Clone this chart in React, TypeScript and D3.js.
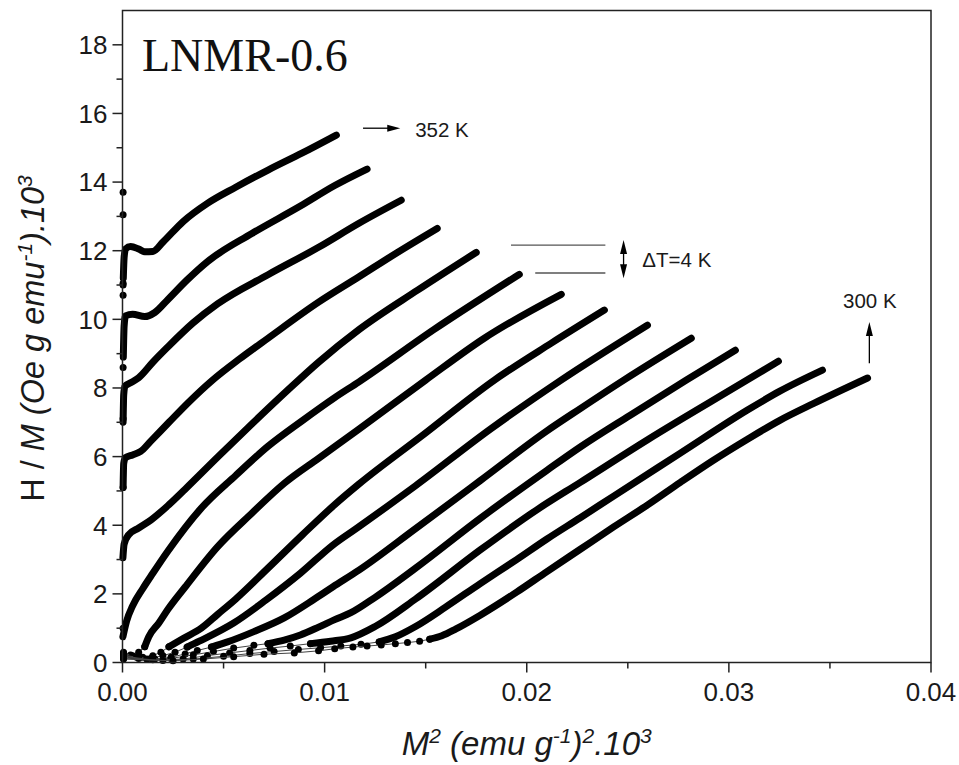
import React from 'react';
import * as d3 from 'd3';

type P = [number, number];

// ---- axes ----
const xDomain: P = [0, 0.04];
const yDomain: P = [0, 19];
const xMajorTicks = [0, 0.01, 0.02, 0.03, 0.04];
const xTickLabels = ['0.00', '0.01', '0.02', '0.03', '0.04'];
const xMinorTicks = [0.005, 0.015, 0.025, 0.035];
const yMajorTicks = [0, 2, 4, 6, 8, 10, 12, 14, 16, 18];
const yMinorTicks = [1, 3, 5, 7, 9, 11, 13, 15, 17];

// ---- series: temperatures 352 K ... 300 K (step 4 K) ----
const temps = [352, 348, 344, 340, 336, 332, 328, 324, 320, 316, 312, 308, 304, 300];

// high-field (dense) branches
const high352: P[] = [[0.00004, 11.2], [0.00008, 11.8], [0.00015, 12.05], [0.0004, 12.12], [0.0008, 12.05], [0.0011, 11.97], [0.0015, 11.98], [0.002, 12.25], [0.003, 12.85], [0.0042, 13.38], [0.0056, 13.85], [0.0072, 14.35], [0.0089, 14.85], [0.01058, 15.37]];
const high348: P[] = [[0.00004, 8.9], [0.00008, 9.8], [0.00015, 10.1], [0.0005, 10.15], [0.0011, 10.08], [0.0016, 10.2], [0.00225, 10.58], [0.0032, 11.15], [0.0042, 11.68], [0.0064, 12.5], [0.0088, 13.3], [0.0105, 13.9], [0.0121, 14.38]];
const high344: P[] = [[0.00003, 7.0], [0.00006, 7.8], [0.00012, 8.05], [0.0004, 8.15], [0.0008, 8.3], [0.0015, 8.75], [0.00225, 9.2], [0.0035, 9.9], [0.0047, 10.45], [0.0072, 11.3], [0.0097, 12.1], [0.0117, 12.8], [0.01379, 13.47]];
const high340: P[] = [[0.00003, 5.1], [0.00006, 5.8], [0.00015, 5.97], [0.0005, 6.05], [0.0009, 6.15], [0.0014, 6.45], [0.0023, 7.0], [0.0033, 7.6], [0.0044, 8.2], [0.0058, 8.85], [0.0072, 9.45], [0.0097, 10.5], [0.0117, 11.24], [0.0136, 11.95], [0.01557, 12.65]];
const high336: P[] = [[0.00002, 3.05], [0.00008, 3.45], [0.0003, 3.72], [0.0008, 3.92], [0.0014, 4.15], [0.0023, 4.6], [0.0031, 5.05], [0.0047, 5.98], [0.0064, 6.95], [0.0082, 7.95], [0.0097, 8.75], [0.0117, 9.7], [0.0146, 10.85], [0.0175, 11.95]];
const high332: P[] = [[0.00002, 0.75], [0.0002, 1.2], [0.0005, 1.65], [0.001, 2.15], [0.0015, 2.6], [0.00225, 3.25], [0.0039, 4.5], [0.0056, 5.45], [0.0072, 6.3], [0.0089, 7.05], [0.0105, 7.72], [0.0117, 8.18], [0.0154, 9.7], [0.01963, 11.31]];
const high328: P[] = [[0.0011, 0.46], [0.0013, 0.75], [0.0018, 1.15], [0.00225, 1.55], [0.0031, 2.2], [0.0047, 3.37], [0.0064, 4.35], [0.008, 5.22], [0.0097, 5.95], [0.0117, 6.8], [0.015, 8.23], [0.0179, 9.45], [0.02171, 10.73]];
const high324: P[] = [[0.0023, 0.46], [0.003, 0.7], [0.0039, 1.0], [0.0047, 1.4], [0.0056, 1.85], [0.0072, 2.75], [0.0089, 3.72], [0.0105, 4.6], [0.0117, 5.2], [0.0148, 6.6], [0.0184, 8.23], [0.0212, 9.3], [0.02384, 10.27]];
const high320: P[] = [[0.0032, 0.45], [0.0038, 0.62], [0.0055, 1.15], [0.0071, 1.82], [0.0088, 2.6], [0.0104, 3.42], [0.0117, 3.96], [0.0145, 5.15], [0.0182, 6.8], [0.0217, 8.23], [0.02597, 9.83]];
const high316: P[] = [[0.0044, 0.45], [0.0052, 0.6], [0.0065, 0.9], [0.008, 1.3], [0.0095, 1.85], [0.0104, 2.2], [0.0117, 2.69], [0.0145, 3.9], [0.0177, 5.3], [0.021, 6.75], [0.02265, 7.4], [0.0248, 8.23], [0.02814, 9.45]];
const high312: P[] = [[0.0072, 0.55], [0.008, 0.65], [0.0088, 0.8], [0.0097, 1.03], [0.0105, 1.25], [0.0113, 1.45], [0.0125, 1.9], [0.0145, 2.75], [0.0177, 4.2], [0.021, 5.6], [0.02265, 6.28], [0.0251, 7.2], [0.0279, 8.23], [0.03032, 9.1]];
const high308: P[] = [[0.0093, 0.55], [0.0103, 0.62], [0.0113, 0.72], [0.0125, 1.05], [0.0145, 1.85], [0.0177, 3.28], [0.0205, 4.45], [0.02265, 5.25], [0.026, 6.5], [0.0309, 8.23], [0.03245, 8.78]];
const high304: P[] = [[0.0127, 0.6], [0.0135, 0.75], [0.0145, 1.05], [0.016, 1.62], [0.0177, 2.3], [0.0195, 3.0], [0.021, 3.6], [0.02265, 4.22], [0.0243, 4.85], [0.0276, 6.1], [0.0309, 7.35], [0.0325, 7.9], [0.03463, 8.52]];
const high300: P[] = [[0.0152, 0.68], [0.0158, 0.78], [0.0165, 0.98], [0.0177, 1.38], [0.0195, 2.05], [0.021, 2.65], [0.02265, 3.3], [0.0243, 3.95], [0.026, 4.6], [0.0276, 5.25], [0.0292, 5.88], [0.0309, 6.5], [0.0325, 7.05], [0.0342, 7.55], [0.03686, 8.29]];

// low-field (sparse) points drawn as dots
const low352: P[] = [[0.00003, 13.7], [0.00003, 13.05], [0.00003, 11.0]];
const low348: P[] = [[0.00003, 11.05], [0.00003, 10.7], [0.00003, 8.6]];
const low344: P[] = [[0.00003, 7.1]];
const low340: P[] = [[0.00003, 5.1]];
const low336: P[] = [];
const low332: P[] = [[0.00003, 1.0]];
const low328: P[] = [[0.00005, 0.3], [0.0004, 0.22], [0.0008, 0.3], [0.0011, 0.46]];
const low324: P[] = [[0.00005, 0.28], [0.0005, 0.2], [0.001, 0.15], [0.0015, 0.2], [0.0019, 0.3], [0.0023, 0.46]];
const low320: P[] = [[0.00005, 0.22], [0.0007, 0.15], [0.0014, 0.12], [0.002, 0.2], [0.0026, 0.3], [0.0032, 0.45]];
const low316: P[] = [[0.00005, 0.2], [0.0008, 0.12], [0.0016, 0.1], [0.0024, 0.15], [0.0031, 0.25], [0.0037, 0.35], [0.0044, 0.45]];
const low312: P[] = [[0.00005, 0.18], [0.0012, 0.1], [0.0024, 0.12], [0.0035, 0.22], [0.0045, 0.32], [0.0055, 0.42], [0.0065, 0.5], [0.0072, 0.55]];
const low308: P[] = [[0.00005, 0.15], [0.0015, 0.08], [0.003, 0.1], [0.0042, 0.2], [0.0053, 0.28], [0.0063, 0.35], [0.0073, 0.42], [0.0083, 0.48], [0.0093, 0.55]];
const low304: P[] = [[0.00005, 0.12], [0.002, 0.06], [0.0035, 0.1], [0.005, 0.18], [0.0063, 0.26], [0.0075, 0.32], [0.0087, 0.38], [0.0098, 0.43], [0.0108, 0.48], [0.0118, 0.53], [0.0127, 0.6]];
const low300: P[] = [[0.00005, 0.1], [0.0025, 0.05], [0.004, 0.1], [0.0055, 0.17], [0.007, 0.24], [0.0085, 0.28], [0.0097, 0.34], [0.0105, 0.4], [0.0114, 0.45], [0.0121, 0.48], [0.0128, 0.51], [0.0135, 0.55], [0.0141, 0.58], [0.0147, 0.62], [0.0152, 0.68]];

const highBranches = [high352, high348, high344, high340, high336, high332, high328, high324, high320, high316, high312, high308, high304, high300];
const lowBranches = [low352, low348, low344, low340, low336, low332, low328, low324, low320, low316, low312, low308, low304, low300];
// whether the low-field points join the curve with a thin line
const joinLow = [false, false, false, false, false, false, true, true, true, true, true, true, true, true];

// ---- annotations (data units) ----
const arrow352: [P, P] = [[0.0119, 15.57], [0.01374, 15.57]];
const label352: P = [0.01448, 15.31];
const refLine1: [P, P] = [[0.01922, 12.16], [0.02389, 12.16]];
const refLine2: [P, P] = [[0.02042, 11.35], [0.02389, 11.35]];
const dTArrow: [P, P] = [[0.02479, 12.31], [0.02479, 11.2]];
const labelDT: P = [0.02572, 11.52];
const arrow300: [P, P] = [[0.03695, 8.72], [0.03695, 9.92]];
const label300: P = [0.03565, 10.33];

const W = 959;
const H = 765;
const left = 122.5, right = 931, top = 10.5, bottom = 662.5;
const SANS = "'Liberation Sans', Arial, Helvetica, sans-serif";
const SERIF = "'Liberation Serif', 'Times New Roman', serif";

export default function App() {
  const x = d3.scaleLinear().domain(xDomain).range([left, right]);
  const y = d3.scaleLinear().domain(yDomain).range([bottom, top]);
  const line = d3.line<P>().x(d => x(d[0])).y(d => y(d[1])).curve(d3.curveMonotoneX);
  const thin = d3.line<P>().x(d => x(d[0])).y(d => y(d[1]));

  const arrowHead = (tip: P, dir: 'right' | 'up' | 'down', len = 12, half = 4) => {
    const tx = x(tip[0]), ty = y(tip[1]);
    let pts: number[][];
    if (dir === 'right') pts = [[tx, ty], [tx - len, ty - half], [tx - len, ty + half]];
    else if (dir === 'up') pts = [[tx, ty], [tx - half, ty + len], [tx + half, ty + len]];
    else pts = [[tx, ty], [tx - half, ty - len], [tx + half, ty - len]];
    return <polygon points={pts.map(p => p.join(',')).join(' ')} fill="#000" />;
  };

  const supDy = 12;
  const supFs = 21;

  return (
    <svg width={W} height={H} style={{ position: 'absolute', left: 0, top: 0, background: '#fff' }} fontFamily={SANS}>
      <rect x={0} y={0} width={W} height={H} fill="#fff" />
      {/* curves */}
      {temps.map((t, i) => {
        const hi = highBranches[i];
        const lo = lowBranches[i];
        return (
          <g key={t}>
            {joinLow[i] && <path d={thin([...lo, ...hi]) || ''} fill="none" stroke="#444" strokeWidth={1} />}
            <path d={line(hi) || ''} fill="none" stroke="#000" strokeWidth={7} strokeLinecap="round" strokeLinejoin="round" />
            {lo.map((p, j) => (
              <circle key={j} cx={x(p[0])} cy={y(p[1])} r={3.5} fill="#000" />
            ))}
          </g>
        );
      })}

      {/* frame */}
      <rect x={left} y={top} width={right - left} height={bottom - top} fill="none" stroke="#222" strokeWidth={1.5} />

      {/* x ticks */}
      {xMajorTicks.map((v, i) => (
        <g key={'xm' + i}>
          <line x1={x(v)} x2={x(v)} y1={bottom} y2={bottom + 10} stroke="#222" strokeWidth={1.5} />
          <text x={x(v)} y={bottom + 38} textAnchor="middle" fontSize={26} fill="#1a1a1a">{xTickLabels[i]}</text>
        </g>
      ))}
      {xMinorTicks.map((v, i) => (
        <line key={'xn' + i} x1={x(v)} x2={x(v)} y1={bottom} y2={bottom + 6} stroke="#222" strokeWidth={1.5} />
      ))}
      {/* y ticks */}
      {yMajorTicks.map((v, i) => (
        <g key={'ym' + i}>
          <line x1={left - 10} x2={left} y1={y(v)} y2={y(v)} stroke="#222" strokeWidth={1.5} />
          <text x={left - 15} y={y(v) + 9.3} textAnchor="end" fontSize={26} fill="#1a1a1a">{v}</text>
        </g>
      ))}
      {yMinorTicks.map((v, i) => (
        <line key={'yn' + i} x1={left - 6} x2={left} y1={y(v)} y2={y(v)} stroke="#222" strokeWidth={1.5} />
      ))}

      {/* axis titles */}
      <text x={(left + right) / 2} y={755} textAnchor="middle" fontSize={33} fill="#1a1a1a" fontStyle="italic">
        <tspan>M</tspan>
        <tspan dy={-supDy} fontSize={supFs}>2</tspan>
        <tspan dy={supDy}> (emu g</tspan>
        <tspan dy={-supDy} fontSize={supFs}>-1</tspan>
        <tspan dy={supDy}>)</tspan>
        <tspan dy={-supDy} fontSize={supFs}>2</tspan>
        <tspan dy={supDy}>.10</tspan>
        <tspan dy={-supDy} fontSize={supFs}>3</tspan>
      </text>
      <text transform={`translate(44,${(top + bottom) / 2 + 2}) rotate(-90)`} textAnchor="middle" fontSize={32.5} fill="#1a1a1a">
        <tspan>H / </tspan>
        <tspan fontStyle="italic">M (Oe g emu</tspan>
        <tspan dy={-supDy} fontSize={supFs} fontStyle="italic">-1</tspan>
        <tspan dy={supDy} fontStyle="italic">).10</tspan>
        <tspan dy={-supDy} fontSize={supFs} fontStyle="italic">3</tspan>
      </text>

      {/* sample label */}
      <text x={142} y={70.5} fontFamily={SERIF} fontSize={46} fill="#111">LNMR-0.6</text>

      {/* annotations */}
      <line x1={x(arrow352[0][0])} y1={y(arrow352[0][1])} x2={x(arrow352[1][0]) - 8} y2={y(arrow352[1][1])} stroke="#000" strokeWidth={1.3} />
      {arrowHead(arrow352[1], 'right', 13, 3.5)}
      <text x={x(label352[0])} y={y(label352[1])} fontSize={20.5} fill="#1a1a1a">352 K</text>

      <line x1={x(refLine1[0][0])} y1={y(refLine1[0][1])} x2={x(refLine1[1][0])} y2={y(refLine1[1][1])} stroke="#555" strokeWidth={1.3} />
      <line x1={x(refLine2[0][0])} y1={y(refLine2[0][1])} x2={x(refLine2[1][0])} y2={y(refLine2[1][1])} stroke="#555" strokeWidth={1.3} />
      <line x1={x(dTArrow[0][0])} y1={y(dTArrow[0][1]) + 8} x2={x(dTArrow[1][0])} y2={y(dTArrow[1][1]) - 8} stroke="#000" strokeWidth={1.3} />
      {arrowHead(dTArrow[0], 'up', 14, 3.5)}
      {arrowHead(dTArrow[1], 'down', 14, 3.5)}
      <text x={x(labelDT[0])} y={y(labelDT[1])} fontSize={20.5} fill="#1a1a1a">ΔT=4 K</text>

      <line x1={x(arrow300[0][0])} y1={y(arrow300[0][1])} x2={x(arrow300[1][0])} y2={y(arrow300[1][1]) + 8} stroke="#000" strokeWidth={1.3} />
      {arrowHead(arrow300[1], 'up', 14, 3.5)}
      <text x={x(label300[0])} y={y(label300[1])} fontSize={20.5} fill="#1a1a1a">300 K</text>
    </svg>
  );
}
